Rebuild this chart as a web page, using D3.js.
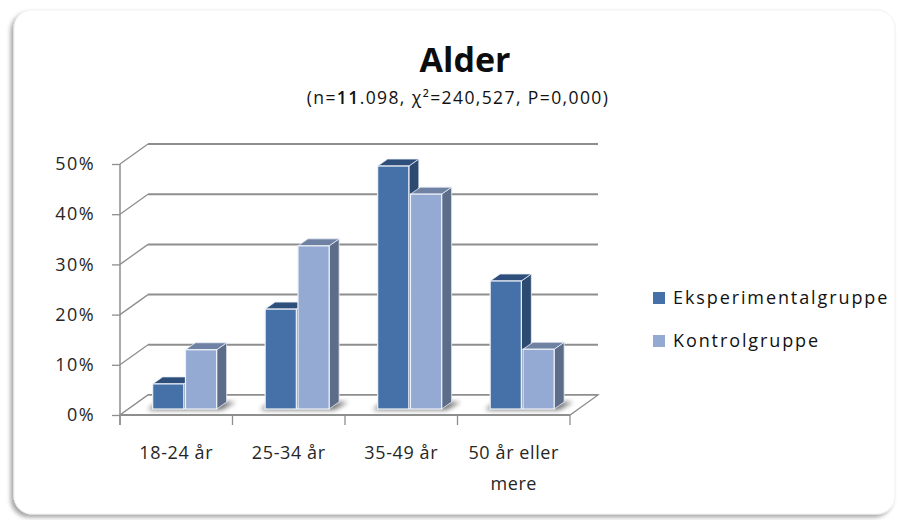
<!DOCTYPE html>
<html><head><meta charset="utf-8">
<script src="https://cdn.jsdelivr.net/npm/d3@7"></script>
<style>
body{margin:0;background:#fff;}
svg{display:block;font-family:"Open Sans",sans-serif;}
</style>
</head><body>
<svg id="c" width="899" height="520"></svg>
<script>
// ---- data ----
const categories = ["18-24 år", "25-34 år", "35-49 år", "50 år eller mere"];
const seriesNames = ["Eksperimentalgruppe", "Kontrolgruppe"];
const eksperimental = [0.050, 0.199, 0.484, 0.255];
const kontrol = [0.118, 0.325, 0.428, 0.119];
const yTicks = [0, 0.1, 0.2, 0.3, 0.4, 0.5];
const titleText = "Alder";
const subtitleParts = ["(n=", "11", ".098, χ²=240,527, P=0,000)"];

// ---- styles ----
const colors = {
  Eksperimentalgruppe: {front: "#4571A8", top: "#2E4F7B", side: "#2D4A70"},
  Kontrolgruppe: {front: "#95AAD2", top: "#6F82A4", side: "#5D6D89"}
};
const seriesValues = [eksperimental, kontrol];

const svg = d3.select("#c");
const defs = svg.append("defs");
const f1 = defs.append("filter").attr("id", "card").attr("x", "-5%").attr("y", "-5%").attr("width", "110%").attr("height", "110%");
f1.append("feDropShadow").attr("dx", -3).attr("dy", 3).attr("stdDeviation", 2).attr("flood-color", "#000").attr("flood-opacity", 0.35);
const f2 = defs.append("filter").attr("id", "blur").attr("x", "-50%").attr("y", "-50%").attr("width", "200%").attr("height", "200%");
f2.append("feGaussianBlur").attr("stdDeviation", 2.5);

// card
svg.append("rect").attr("x", 14).attr("y", 10).attr("width", 881).attr("height", 504)
  .attr("rx", 18).attr("fill", "#fff").attr("stroke", "#ececec").attr("stroke-width", 0.8)
  .attr("filter", "url(#card)");

// ---- scales ----
const x0 = 120, x1 = 570, yBase = 415, yTopPx = 164;
const depth = {dx: 28, dy: -20};
const x = d3.scaleBand().domain(categories).range([x0, x1]).padding(0);
const y = d3.scaleLinear().domain([0, 0.5]).range([yBase, yTopPx]);
const tFront = 0.3, barDx = 10, barDy = -7;
const fdx = depth.dx * tFront, fdy = depth.dy * tFront;
const xs = d3.scaleBand().domain(seriesNames).range([-32, 32]).paddingInner(0.05);

const gridColor = "#8e8e8e";
const g = svg.append("g");

// back wall gridlines + left wall diagonals
yTicks.forEach(t => {
  const yy = y(t);
  g.append("line").attr("x1", x0 + depth.dx).attr("x2", x1 + depth.dx)
    .attr("y1", yy + depth.dy).attr("y2", yy + depth.dy)
    .attr("stroke", gridColor).attr("stroke-width", 2);
  g.append("line").attr("x1", x0).attr("y1", yy).attr("x2", x0 + depth.dx).attr("y2", yy + depth.dy)
    .attr("stroke", gridColor).attr("stroke-width", 1.3);
});

// floor
g.append("path")
  .attr("d", `M${x0},${yBase}L${x1},${yBase}L${x1 + depth.dx},${yBase + depth.dy}L${x0 + depth.dx},${yBase + depth.dy}Z`)
  .attr("fill", "#fff").attr("stroke", gridColor).attr("stroke-width", 1.3);
g.append("line").attr("x1", x0).attr("x2", x1).attr("y1", yBase).attr("y2", yBase)
  .attr("stroke", gridColor).attr("stroke-width", 2);

// y axis
const yAxis = d3.axisLeft(y).tickValues(yTicks).tickFormat(d3.format(".0%")).tickSize(8).tickPadding(17);
const ya = svg.append("g").attr("transform", `translate(${x0},0)`).call(yAxis);
ya.select(".domain").attr("stroke", gridColor).attr("stroke-width", 1.5).attr("d", `M0,${yTopPx}V${yBase + 10}`);
ya.selectAll(".tick line").attr("stroke", gridColor).attr("stroke-width", 1.3);
ya.selectAll(".tick text").attr("font-size", 18).attr("font-family", "Open Sans").attr("fill", "#262626")
  .attr("letter-spacing", 1.4);

// x axis
const xAxis = d3.axisBottom(x).tickSize(0).tickPadding(31);
const xa = svg.append("g").attr("transform", `translate(0,${yBase})`).call(xAxis);
xa.select(".domain").remove();
xa.selectAll(".tick text").attr("font-size", 18).attr("font-family", "Open Sans").attr("fill", "#262626")
  .attr("letter-spacing", 0.6).call(wrap, x.bandwidth() - 4);
// ticks between categories
const bounds = categories.map(c => x(c)).concat([x1]);
svg.append("g").selectAll("line").data(bounds).join("line")
  .attr("x1", d => d).attr("x2", d => d).attr("y1", yBase).attr("y2", yBase + 10)
  .attr("stroke", gridColor).attr("stroke-width", 1.3);

function wrap(sel, width) {
  sel.each(function () {
    const text = d3.select(this);
    const words = text.text().split(/\s+/);
    const yv = text.attr("y"), dy = parseFloat(text.attr("dy")) || 0;
    text.text(null);
    let line = [], lineNo = 0;
    let tspan = text.append("tspan").attr("x", 0).attr("y", yv).attr("dy", dy + "em");
    words.forEach(w => {
      line.push(w);
      tspan.text(line.join(" "));
      if (tspan.node().getComputedTextLength() > width && line.length > 1) {
        line.pop();
        tspan.text(line.join(" "));
        line = [w];
        lineNo++;
        tspan = text.append("tspan").attr("x", 0).attr("y", yv).attr("dy", (dy + lineNo * 1.72) + "em").text(w);
      }
    });
  });
}

// ---- bars ----
const bars = svg.append("g");
categories.forEach((c, i) => {
  const cx = x(c) + x.bandwidth() / 2 + fdx;
  const yb = yBase + fdy;
  const bx0 = cx + xs(seriesNames[0]) - 5;
  const bx1 = cx + xs(seriesNames[1]) + xs.bandwidth() + 5;
  // shadow
  bars.append("path")
    .attr("d", `M${bx0},${yb + 1}L${bx1},${yb + 1}L${bx1 + barDx + 4},${yb + barDy}L${bx0 + barDx},${yb + barDy}Z`)
    .attr("fill", "#000").attr("opacity", 0.55).attr("filter", "url(#blur)");
  seriesNames.forEach((s, j) => {
    const v = seriesValues[j][i];
    const bx = cx + xs(s), w = xs.bandwidth();
    const yt = y(v) + fdy;
    const col = colors[s];
    const gb = bars.append("g");
    gb.append("path")
      .attr("d", `M${bx + w},${yt}L${bx + w + barDx},${yt + barDy}L${bx + w + barDx},${yb + barDy}L${bx + w},${yb}Z`)
      .attr("fill", col.side).attr("stroke", "#e8edf5").attr("stroke-width", 0.8).attr("stroke-linejoin", "round");
    gb.append("path")
      .attr("d", `M${bx},${yt}L${bx + barDx},${yt + barDy}L${bx + w + barDx},${yt + barDy}L${bx + w},${yt}Z`)
      .attr("fill", col.top).attr("stroke", "#e8edf5").attr("stroke-width", 0.8).attr("stroke-linejoin", "round");
    gb.append("rect").attr("x", bx).attr("y", yt).attr("width", w).attr("height", yb - yt)
      .attr("fill", col.front).attr("stroke", "#eef2f8").attr("stroke-width", 1.2);
  });
});

// ---- title ----
svg.append("text").attr("x", 465).attr("y", 72).attr("text-anchor", "middle")
  .attr("font-size", 34).attr("font-weight", "bold").attr("fill", "#0d0d0d").text(titleText);
const st = svg.append("text").attr("x", 458).attr("y", 104).attr("text-anchor", "middle")
  .attr("font-size", 17.5).attr("fill", "#111").attr("letter-spacing", 1.4);
st.append("tspan").text(subtitleParts[0]);
st.append("tspan").attr("font-weight", 600).text(subtitleParts[1]);
st.append("tspan").text(subtitleParts[2]);

// ---- legend ----
const leg = svg.append("g").attr("transform", "translate(653,292)");
seriesNames.forEach((s, j) => {
  const lg = leg.append("g").attr("transform", `translate(0,${j * 43})`);
  lg.append("rect").attr("width", 12).attr("height", 12).attr("fill", colors[s].front);
  lg.append("text").attr("x", 20).attr("y", 6).attr("dy", "0.36em").attr("font-size", 18)
    .attr("letter-spacing", 1.9).attr("fill", "#111").text(s);
});
</script>
</body></html>
